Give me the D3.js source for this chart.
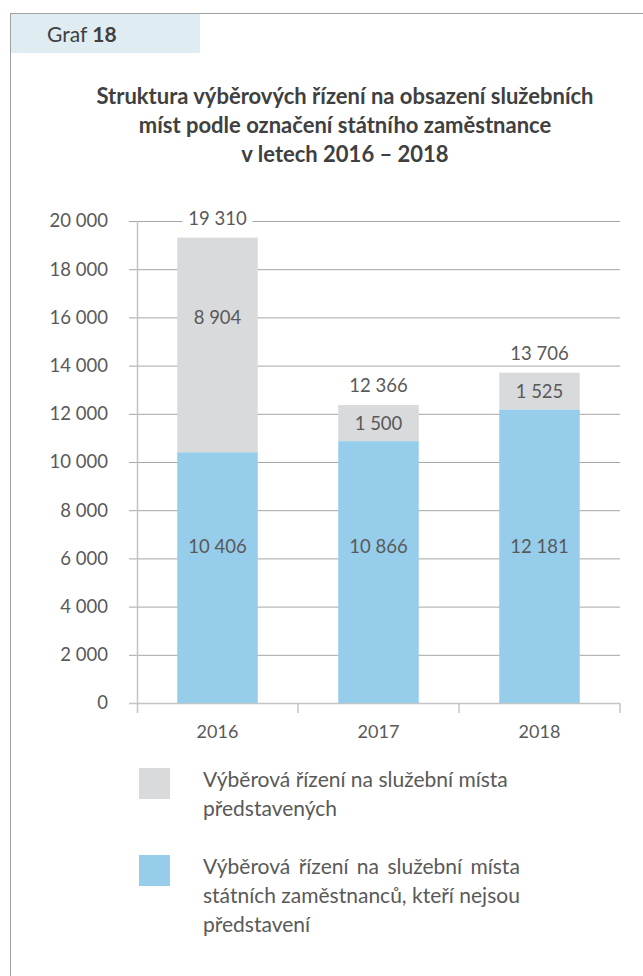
<!DOCTYPE html>
<html>
<head>
<meta charset="utf-8">
<script src="https://cdn.jsdelivr.net/npm/d3@7"></script>
<style>
  body { margin: 0; background: #fff; }
  text { font-family: Lato, "Open Sans", sans-serif; }
</style>
</head>
<body>
<script>
// data
var years = ["2016", "2017", "2018"];
var nonManagers = [10406, 10866, 12181];   // blue
var managers = [8904, 1500, 1525];         // grey
var totals = [19310, 12366, 13706];
var yTicks = [0, 2000, 4000, 6000, 8000, 10000, 12000, 14000, 16000, 18000, 20000];
var titleLines = [
    "Struktura výběrových řízení na obsazení služebních",
    "míst podle označení státního zaměstnance",
    "v letech 2016 – 2018"
];
var legendItems = [
    { key: "managers", lines: ["Výběrová řízení na služební místa", "představených"], justify: false },
    { key: "nonManagers", lines: ["Výběrová řízení na služební místa", "státních zaměstnanců, kteří nejsou", "představení"], justify: true }
];

var w = 643;
var h = 976;
var colors = { nonManagers: "#95cdeb", managers: "#d9dadc" };
var textColor = "#595959";
var numSize = 18.5;

var fmt = d3.formatLocale({ decimal: ",", thousands: " ", grouping: [3], currency: ["", ""] }).format(",d");

var rows = years.map(function(y, i) {
    return { year: y, nonManagers: nonManagers[i], managers: managers[i], total: totals[i] };
});

var svg = d3.select("body")
    .append("svg")
    .attr("width", w)
    .attr("height", h);

// frame
svg.append("rect")
    .attr("x", 10.5).attr("y", 13.5)
    .attr("width", 660).attr("height", 1000)
    .attr("fill", "none")
    .attr("stroke", "#a0a0a0");

svg.append("rect")
    .attr("x", 11).attr("y", 14)
    .attr("width", 189).attr("height", 39)
    .attr("fill", "#dfedf2");

var graf = svg.append("text")
    .attr("x", 47).attr("y", 42)
    .attr("font-size", 21)
    .attr("fill", "#404040");
graf.append("tspan").text("Graf ");
graf.append("tspan").attr("font-weight", "bold").text("18");

// title
svg.append("g").selectAll("text")
    .data(titleLines)
    .enter()
    .append("text")
    .attr("x", 345)
    .attr("y", function(d, i) { return 104 + i * 29; })
    .attr("text-anchor", "middle")
    .attr("font-size", 22)
    .attr("font-weight", "bold")
    .attr("fill", "#404040")
    .text(function(d) { return d; });

// scales
var x = d3.scaleBand()
    .domain(years)
    .range([137, 620])
    .paddingInner(0.5)
    .paddingOuter(0.25);

var y = d3.scaleLinear()
    .domain([0, 20000])
    .range([703, 221]);

// grid + y labels
var yAxis = svg.append("g")
    .attr("transform", "translate(129,0)")
    .call(d3.axisLeft(y).tickValues(yTicks).tickFormat(fmt).tickSize(-(620 - 129)).tickPadding(21));
yAxis.select(".domain").remove();
yAxis.selectAll(".tick line")
    .attr("stroke", function(d) { return d === 0 ? "#c4c4c4" : "#a6a6a6"; })
    .attr("stroke-width", function(d) { return d === 0 ? 1.5 : 1; });
yAxis.selectAll(".tick text")
    .attr("font-size", numSize)
    .attr("fill", textColor);

// vertical axis line
svg.append("line")
    .attr("x1", 137.5).attr("x2", 137.5)
    .attr("y1", y(20000)).attr("y2", y(0) + 10)
    .attr("stroke", "#c4c4c4")
    .attr("stroke-width", 1.5);

// category ticks at band boundaries
var bounds = years.map(function(d) { return x(d) + x.bandwidth() / 2 + x.step() / 2; });
svg.append("g").selectAll("line")
    .data(bounds)
    .enter()
    .append("line")
    .attr("x1", function(d) { return d; })
    .attr("x2", function(d) { return d; })
    .attr("y1", y(0))
    .attr("y2", y(0) + 10)
    .attr("stroke", "#c4c4c4")
    .attr("stroke-width", 1.5);

svg.append("g").selectAll("text")
    .data(years)
    .enter()
    .append("text")
    .attr("x", function(d) { return x(d) + x.bandwidth() / 2; })
    .attr("y", 738)
    .attr("text-anchor", "middle")
    .attr("font-size", 18)
    .attr("fill", textColor)
    .text(function(d) { return d; });

// stacked bars
var stack = d3.stack().keys(["nonManagers", "managers"]);
var series = stack(rows);

var layers = svg.append("g").selectAll("g")
    .data(series)
    .enter()
    .append("g")
    .attr("fill", function(d) { return colors[d.key]; });

layers.selectAll("rect")
    .data(function(d) { return d; })
    .enter()
    .append("rect")
    .attr("x", function(d) { return x(d.data.year); })
    .attr("y", function(d) { return y(d[1]); })
    .attr("width", x.bandwidth())
    .attr("height", function(d) { return y(d[0]) - y(d[1]); });

// segment labels
function labelValue(key, d) {
    var span = d[1] - d[0];
    if (key === "nonManagers") return 6500;
    if (span > 5000) return d[0] + span * 0.63;
    return d[0] + span / 2;
}

layers.selectAll("text")
    .data(function(s) { return s.map(function(d) { return { key: s.key, d: d }; }); })
    .enter()
    .append("text")
    .attr("x", function(o) { return x(o.d.data.year) + x.bandwidth() / 2; })
    .attr("y", function(o) { return y(labelValue(o.key, o.d)); })
    .attr("dy", "0.35em")
    .attr("text-anchor", "middle")
    .attr("font-size", numSize)
    .attr("fill", textColor)
    .text(function(o) { return fmt(o.d.data[o.key]); });

// totals
var tot = svg.append("g").selectAll("g")
    .data(rows)
    .enter()
    .append("g")
    .attr("transform", function(d) {
        return "translate(" + (x(d.year) + x.bandwidth() / 2) + "," + (y(d.total) - 19) + ")";
    });
tot.append("rect")
    .attr("x", -35).attr("y", -11)
    .attr("width", 70).attr("height", 22)
    .attr("fill", "#fff");
tot.append("text")
    .attr("dy", "0.35em")
    .attr("text-anchor", "middle")
    .attr("font-size", numSize)
    .attr("fill", textColor)
    .text(function(d) { return fmt(d.total); });

// legend
var legendTops = [768, 855];
var lineH = 29;
var lg = svg.append("g").selectAll("g")
    .data(legendItems)
    .enter()
    .append("g")
    .attr("transform", function(d, i) { return "translate(139," + legendTops[i] + ")"; });

lg.append("rect")
    .attr("width", 31).attr("height", 31)
    .attr("fill", function(d) { return colors[d.key]; });

lg.each(function(item) {
    var g = d3.select(this);
    var texts = g.selectAll("text")
        .data(item.lines)
        .enter()
        .append("text")
        .attr("x", 64)
        .attr("y", function(d, i) { return 19 + i * lineH; })
        .attr("font-size", 21)
        .attr("fill", textColor)
        .text(function(d) { return d; });
    if (item.justify) {
        // spread the first line to the width of the second one
        var nodes = texts.nodes();
        var target = nodes[1].getComputedTextLength();
        var cur = nodes[0].getComputedTextLength();
        var gaps = item.lines[0].split(" ").length - 1;
        d3.select(nodes[0]).attr("word-spacing", (target - cur) / gaps);
    }
});
</script>
</body>
</html>
